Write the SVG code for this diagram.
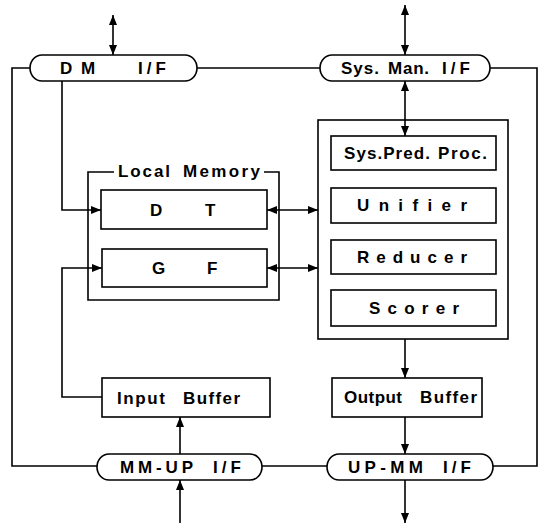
<svg xmlns="http://www.w3.org/2000/svg" width="541" height="527" viewBox="0 0 541 527">
  <defs>
    <marker id="arr" markerUnits="userSpaceOnUse" markerWidth="10" markerHeight="8" refX="10" refY="4" orient="auto-start-reverse">
      <path d="M0,0 L10,4 L0,8 z" fill="#000"/>
    </marker>
    <style>
      .box { fill: #fff; stroke: #000; stroke-width: 1.6; }
      .ln { fill: none; stroke: #000; stroke-width: 1.6; }
      .t { font-family: "Liberation Sans", Arial, sans-serif; font-weight: bold; font-size: 17px; fill: #000; }
    </style>
  </defs>
  <rect width="541" height="527" fill="#fff"/>

  <!-- interfaces -->
  <g id="dm-if">
    <rect class="box" x="30" y="55" width="167" height="26" rx="12" ry="13"/>
    <text class="t" x="60" y="74">D</text>
    <text class="t" x="81" y="74">M</text>
    <text class="t" x="138" y="74" textLength="28" lengthAdjust="spacing">I/F</text>
  </g>
  <g id="sysman-if">
    <rect class="box" x="320" y="55" width="170" height="26" rx="12" ry="13"/>
    <text class="t" x="341" y="74" textLength="38" lengthAdjust="spacing">Sys.</text>
    <text class="t" x="388" y="74" textLength="41" lengthAdjust="spacing">Man.</text>
    <text class="t" x="442" y="74" textLength="28" lengthAdjust="spacing">I/F</text>
  </g>
  <g id="mmup-if">
    <rect class="box" x="97" y="454" width="165" height="26" rx="12" ry="13"/>
    <text class="t" x="120" y="473" textLength="73" lengthAdjust="spacing">MM-UP</text>
    <text class="t" x="213" y="473" textLength="28" lengthAdjust="spacing">I/F</text>
  </g>
  <g id="upmm-if">
    <rect class="box" x="327" y="454" width="166" height="26" rx="12" ry="13"/>
    <text class="t" x="348" y="473" textLength="75" lengthAdjust="spacing">UP-MM</text>
    <text class="t" x="443" y="473" textLength="28" lengthAdjust="spacing">I/F</text>
  </g>

  <!-- local memory -->
  <g id="local-memory">
    <path class="ln" d="M114,172 H88 V300 H279 V172 H264"/>
    <text class="t" x="118" y="177" textLength="52" lengthAdjust="spacing">Local</text>
    <text class="t" x="183" y="177" textLength="77" lengthAdjust="spacing">Memory</text>
  </g>
  <g id="dt">
    <rect class="box" x="101" y="190" width="166" height="39"/>
    <text class="t" x="150" y="216">D</text>
    <text class="t" x="205" y="216">T</text>
  </g>
  <g id="gf">
    <rect class="box" x="102" y="249" width="165" height="38"/>
    <text class="t" x="152" y="274">G</text>
    <text class="t" x="207" y="274">F</text>
  </g>

  <!-- processor -->
  <g id="processor">
    <rect class="box" x="318" y="120" width="190" height="219"/>
  </g>
  <g id="syspred">
    <rect class="box" x="331" y="136" width="165" height="34"/>
    <text class="t" x="344" y="159" textLength="86" lengthAdjust="spacing">Sys.Pred.</text>
    <text class="t" x="438" y="159" textLength="49" lengthAdjust="spacing">Proc.</text>
  </g>
  <g id="unifier">
    <rect class="box" x="331" y="188" width="165" height="35"/>
    <text class="t" x="357" y="211" textLength="110" lengthAdjust="spacing">Unifier</text>
  </g>
  <g id="reducer">
    <rect class="box" x="331" y="240" width="165" height="34"/>
    <text class="t" x="357" y="263" textLength="110" lengthAdjust="spacing">Reducer</text>
  </g>
  <g id="scorer">
    <rect class="box" x="331" y="290" width="165" height="36"/>
    <text class="t" x="369" y="314" textLength="90" lengthAdjust="spacing">Scorer</text>
  </g>

  <!-- buffers -->
  <g id="input-buffer">
    <rect class="box" x="102" y="378" width="168" height="39"/>
    <text class="t" x="117" y="404" textLength="48" lengthAdjust="spacing">Input</text>
    <text class="t" x="183" y="404" textLength="57" lengthAdjust="spacing">Buffer</text>
  </g>
  <g id="output-buffer">
    <rect class="box" x="332" y="378" width="150" height="39"/>
    <text class="t" x="344" y="403" textLength="58" lengthAdjust="spacing">Output</text>
    <text class="t" x="420" y="403" textLength="57" lengthAdjust="spacing">Buffer</text>
  </g>

  <!-- connectors -->
  <g id="connectors">
    <path class="ln" d="M113,15 V55" marker-start="url(#arr)" marker-end="url(#arr)"/>
    <path class="ln" d="M405,5 V55" marker-start="url(#arr)" marker-end="url(#arr)"/>
    <path class="ln" d="M405,81 V136" marker-start="url(#arr)" marker-end="url(#arr)"/>
    <path class="ln" d="M30,68 H12 V466 H97"/>
    <path class="ln" d="M197,68 H320"/>
    <path class="ln" d="M490,68 H537 V466 H493"/>
    <path class="ln" d="M262,466 H327"/>
    <path class="ln" d="M62,81 V210 H101" marker-end="url(#arr)"/>
    <path class="ln" d="M102,397 H62 V268 H102" marker-end="url(#arr)"/>
    <path class="ln" d="M267,210 H318" marker-start="url(#arr)" marker-end="url(#arr)"/>
    <path class="ln" d="M267,268 H318" marker-start="url(#arr)" marker-end="url(#arr)"/>
    <path class="ln" d="M405,339 V378" marker-end="url(#arr)"/>
    <path class="ln" d="M405,417 V454" marker-end="url(#arr)"/>
    <path class="ln" d="M405,480 V523" marker-end="url(#arr)"/>
    <path class="ln" d="M180,454 V417" marker-end="url(#arr)"/>
    <path class="ln" d="M180,523 V480" marker-end="url(#arr)"/>
  </g>
</svg>
